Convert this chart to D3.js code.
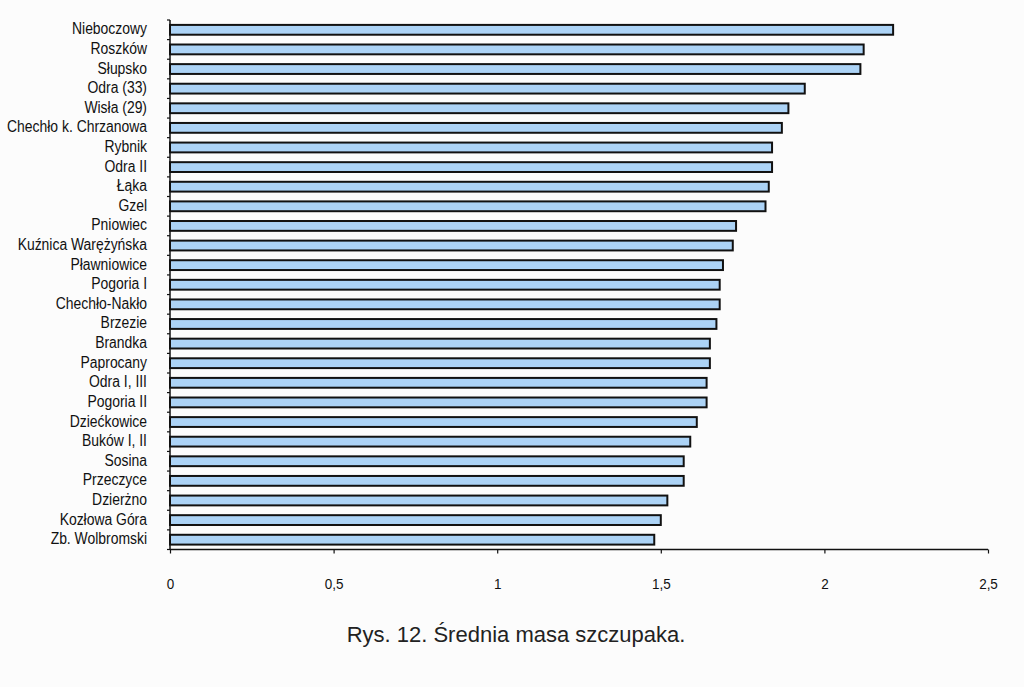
<!DOCTYPE html>
<html>
<head>
<meta charset="utf-8">
<script src="https://cdn.jsdelivr.net/npm/d3@7"></script>
<style>
  body { margin: 0; background: #fcfcfc; }
  svg { display: block; }
  text { font-family: "Liberation Sans", Arial, Helvetica, sans-serif; fill: #111; }
</style>
</head>
<body>
<script>
// lakes / rivers, top to bottom
var lakes = ["Nieboczowy", "Roszków", "Słupsko", "Odra (33)", "Wisła (29)",
  "Chechło k. Chrzanowa", "Rybnik", "Odra II", "Łąka", "Gzel", "Pniowiec",
  "Kuźnica Warężyńska", "Pławniowice", "Pogoria I", "Chechło-Nakło", "Brzezie",
  "Brandka", "Paprocany", "Odra I, III", "Pogoria II", "Dziećkowice",
  "Buków I, II", "Sosina", "Przeczyce", "Dzierżno", "Kozłowa Góra",
  "Zb. Wolbromski"];
var masa = [2.21, 2.12, 2.11, 1.94, 1.89, 1.87, 1.84, 1.84, 1.83, 1.82, 1.73,
  1.72, 1.69, 1.68, 1.68, 1.67, 1.65, 1.65, 1.64, 1.64, 1.61, 1.59, 1.57,
  1.57, 1.52, 1.50, 1.48];
var xTicks = [0, 0.5, 1, 1.5, 2, 2.5];
var caption = "Rys. 12. Średnia masa szczupaka.";

var width = 1024, height = 687;
var svg = d3.select("body").append("svg")
  .attr("width", width)
  .attr("height", height);

var x = d3.scaleLinear().domain([0, 2.5]).range([170, 988]);
var y = d3.scaleBand().domain(lakes).range([20, 549.5])
  .paddingInner(0.5).paddingOuter(0.25);

// bars
svg.selectAll(".bar")
  .data(lakes)
  .enter().append("rect")
  .attr("class", "bar")
  .attr("x", x(0))
  .attr("y", function (d) { return y(d); })
  .attr("width", function (d, i) { return x(masa[i]) - x(0); })
  .attr("height", y.bandwidth())
  .style("fill", "#acd3f6")
  .style("stroke", "#111")
  .style("stroke-width", 2);

// y axis line + ticks between categories
svg.append("line")
  .attr("x1", x(0)).attr("x2", x(0))
  .attr("y1", 20).attr("y2", 549.5)
  .style("stroke", "#111").style("stroke-width", 1.5);
svg.selectAll(".ytick")
  .data(d3.range(lakes.length + 1))
  .enter().append("line")
  .attr("class", "ytick")
  .attr("x1", x(0) - 3).attr("x2", x(0))
  .attr("y1", function (i) { return 20 + i * (529.5 / lakes.length); })
  .attr("y2", function (i) { return 20 + i * (529.5 / lakes.length); })
  .style("stroke", "#111").style("stroke-width", 1.2);

// category labels (narrow helvetica look: squeeze horizontally)
svg.selectAll(".lab")
  .data(lakes)
  .enter().append("text")
  .attr("class", "lab")
  .attr("transform", function (d) {
    return "translate(147," + (y(d) + y.bandwidth() / 2 + 4.5) + ") scale(0.87,1)";
  })
  .attr("text-anchor", "end")
  .style("font-size", "16px")
  .text(function (d) { return d; });

// x axis
var xAxis = d3.axisBottom(x)
  .tickValues(xTicks)
  .tickSize(4)
  .tickFormat(function (d) { return String(d).replace(".", ","); });
var gx = svg.append("g")
  .attr("transform", "translate(0,549.5)")
  .call(xAxis)
  .attr("font-size", 15)
  .attr("font-family", "'Liberation Sans', Arial, sans-serif");
gx.select(".domain").style("stroke", "#111").style("stroke-width", 1.5)
  .attr("d", "M" + x(0) + ",0H" + x(2.5));
gx.selectAll(".tick line").style("stroke", "#111").style("stroke-width", 1.2);
gx.selectAll(".tick text")
  .attr("y", 0).attr("dy", null)
  .attr("transform", "translate(0,39.5) scale(0.9,1)")
  .style("font-size", "15px")
  .style("fill", "#111");

// caption
svg.append("text")
  .attr("x", 516)
  .attr("y", 641.5)
  .attr("text-anchor", "middle")
  .style("font-size", "22px")
  .style("fill", "#222")
  .text(caption);
</script>
</body>
</html>
